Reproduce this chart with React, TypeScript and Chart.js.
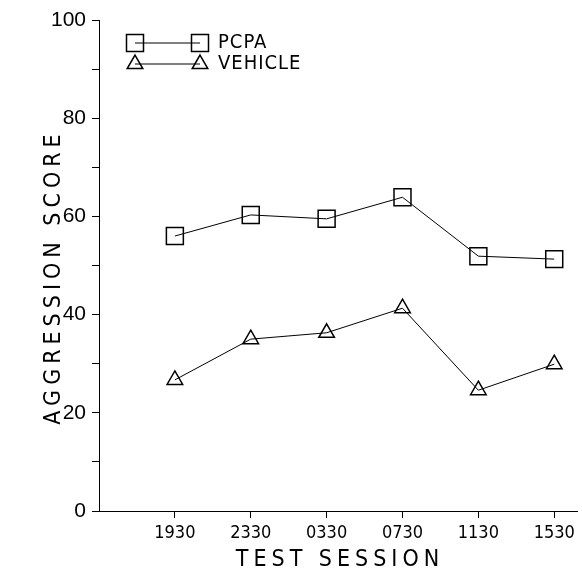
import React, { useEffect, useRef } from 'react';
import { Chart, registerables } from 'chart.js';

Chart.register(...registerables);

const sessions = ['1930', '2330', '0330', '0730', '1130', '1530'];
const pcpa = [56.0, 60.3, 59.5, 63.9, 51.9, 51.3];
const vehicle = [26.7, 35.0, 36.3, 41.3, 24.6, 29.9];
const yLabelTicks = [0, 20, 40, 60, 80, 100];
const seriesNames = ['PCPA', 'VEHICLE'];
const xTitle = 'TEST SESSION';
const yTitle = 'AGGRESSION SCORE';

const FONT = '"DejaVu Sans Condensed", "DejaVu Sans", sans-serif';
const YFONT = '"Liberation Sans", "DejaVu Sans", sans-serif';
const X_MAX = 6.3;

const titlesAndLegend = {
  id: 'titlesAndLegend',
  afterDraw(chart: any) {
    const { ctx, chartArea } = chart;
    ctx.save();
    ctx.fillStyle = '#000';
    ctx.strokeStyle = '#000';
    ctx.textBaseline = 'middle';
    ctx.textAlign = 'center';
    ctx.font = `23px ${FONT}`;
    // x title
    (ctx as any).letterSpacing = '5px';
    ctx.fillText(xTitle, (chartArea.left + chartArea.right) / 2 + 2, 560);
    // y title
    ctx.save();
    ctx.translate(54, 279);
    ctx.rotate(-Math.PI / 2);
    (ctx as any).letterSpacing = '5px';
    ctx.fillText(yTitle, 2, 0);
    ctx.restore();
    (ctx as any).letterSpacing = '1px';

    // legend
    const x1 = chartArea.left + 36;
    const x2 = chartArea.left + 101;
    const tx = chartArea.left + 119;
    const rows = [43, 64];
    chart.data.datasets.forEach((ds: any, i: number) => {
      const y = rows[i];
      ctx.lineWidth = 1;
      ctx.beginPath();
      ctx.moveTo(x1, y);
      ctx.lineTo(x2, y);
      ctx.stroke();
      ctx.lineWidth = 1.5;
      [x1, x2].forEach((x) => {
        ctx.beginPath();
        if (ds.pointStyle === 'rect') {
          const h = 8.5;
          ctx.rect(x - h, y - h, 2 * h, 2 * h);
        } else {
          const r = 9;
          for (let k = 0; k < 3; k++) {
            const a = (k * 2 * Math.PI) / 3;
            const px = x + Math.sin(a) * r;
            const py = y - Math.cos(a) * r;
            if (k === 0) ctx.moveTo(px, py);
            else ctx.lineTo(px, py);
          }
          ctx.closePath();
        }
        ctx.stroke();
      });
      ctx.textAlign = 'left';
      ctx.font = `20px ${FONT}`;
      ctx.fillText(ds.label, tx, y);
    });
    ctx.restore();
  },
};

export default function App() {
  const ref = useRef<HTMLCanvasElement>(null);
  useEffect(() => {
    if (!ref.current) return;
    const chart = new Chart(ref.current, {
      type: 'line',
      data: {
        datasets: [
          {
            label: seriesNames[0],
            data: sessions.map((_, i) => ({ x: i + 1, y: pcpa[i] })),
            borderColor: '#000',
            borderWidth: 1,
            backgroundColor: 'rgba(0,0,0,0)',
            pointStyle: 'rect',
            pointRadius: 12,
            pointBorderWidth: 1.5,
            pointBorderColor: '#000',
            pointBackgroundColor: 'rgba(0,0,0,0)',
            tension: 0,
          },
          {
            label: seriesNames[1],
            data: sessions.map((_, i) => ({ x: i + 1, y: vehicle[i] })),
            borderColor: '#000',
            borderWidth: 1,
            backgroundColor: 'rgba(0,0,0,0)',
            pointStyle: 'triangle',
            pointRadius: 9,
            pointBorderWidth: 1.5,
            pointBorderColor: '#000',
            pointBackgroundColor: 'rgba(0,0,0,0)',
            tension: 0,
          },
        ],
      },
      options: {
        animation: false,
        responsive: false,
        devicePixelRatio: 1,
        layout: { autoPadding: false, padding: { top: 20, right: 5, left: 0, bottom: 0 } },
        plugins: { legend: { display: false }, tooltip: { enabled: false } },
        scales: {
          x: {
            type: 'linear',
            min: 0,
            max: X_MAX,
            afterFit: (s: any) => {
              s.height = 66;
              s.paddingRight = 0;
              s.paddingLeft = 0;
            },
            afterBuildTicks: (s: any) => {
              s.ticks = [0, 1, 2, 3, 4, 5, 6, X_MAX].map((v) => ({ value: v }));
            },
            ticks: {
              autoSkip: false,
              maxRotation: 0,
              padding: 5,
              color: '#000',
              font: { family: FONT, size: 18 },
              callback: (v: any) => (v >= 1 && Number.isInteger(v) ? sessions[v - 1] : ''),
            },
            grid: {
              drawOnChartArea: false,
              drawTicks: true,
              tickLength: 7,
              color: (c: any) =>
                c.tick && (c.tick.value === 0 || !Number.isInteger(c.tick.value)) ? 'rgba(0,0,0,0)' : '#000',
            },
            border: { display: true, color: '#000', width: 1 },
          },
          y: {
            type: 'linear',
            min: 0,
            max: 100,
            afterFit: (s: any) => {
              s.width = 99;
            },
            ticks: {
              stepSize: 10,
              padding: 6,
              color: '#000',
              font: { family: YFONT, size: 21 },
              callback: (v: any) => (yLabelTicks.includes(v) ? String(v) : ''),
            },
            grid: { drawOnChartArea: false, drawTicks: true, tickLength: 7, color: '#000' },
            border: { display: true, color: '#000', width: 1 },
          },
        },
      },
      plugins: [titlesAndLegend],
    });
    return () => chart.destroy();
  }, []);
  return (
    <div style={{ position: 'absolute', left: 0, top: 0, width: 582, height: 577, background: '#fff' }}>
      <canvas ref={ref} width={582} height={577} />
    </div>
  );
}
